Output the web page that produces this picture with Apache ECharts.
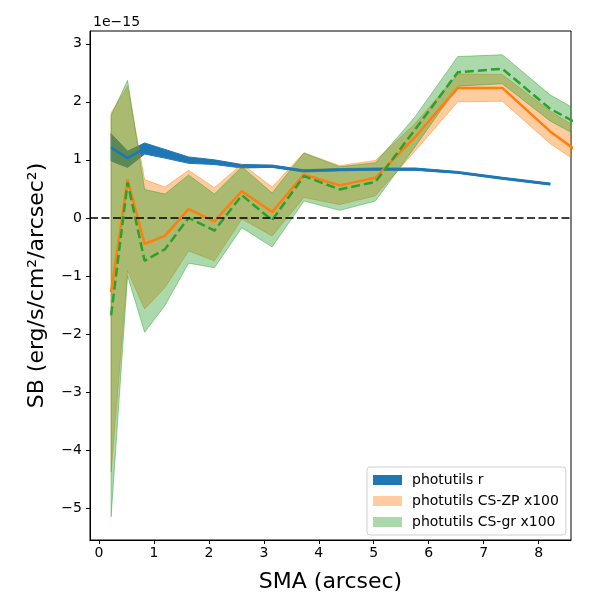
<!DOCTYPE html>
<html>
<head>
<meta charset="utf-8">
<script src="https://cdn.jsdelivr.net/npm/echarts@6/dist/echarts.min.js"></script>
<style>
  html, body { margin: 0; padding: 0; background: #fff; }
  #chart { width: 600px; height: 600px; }
</style>
</head>
<body>
<div id="chart"></div>
<script>
// SMA (arcsec) and SB values in units of 1e-15
const sma = [0.22, 0.52, 0.83, 1.20, 1.63, 2.10, 2.60, 3.15, 3.73, 4.38, 5.03, 5.75, 6.53, 7.34, 8.21, 9.15];

const rLine  = [1.21, 1.03, 1.20, 1.10, 1.00, 0.96, 0.89, 0.89, 0.81, 0.83, 0.84, 0.84, 0.78, 0.68, 0.58];
const rLow   = [0.98, 0.87, 1.10, 1.03, 0.94, 0.92, 0.86, 0.87, 0.79, 0.81, 0.82, 0.82, 0.77, 0.67, 0.57];
const rHigh  = [1.45, 1.15, 1.29, 1.18, 1.05, 1.00, 0.92, 0.91, 0.83, 0.85, 0.86, 0.86, 0.80, 0.70, 0.60];

const zpLine = [-1.28, 0.66, -0.45, -0.31, 0.15, -0.06, 0.46, 0.10, 0.75, 0.56, 0.69, 1.39, 2.24, 2.24, 1.49, 0.84];
const zpHigh = [1.81, 2.27, 0.66, 0.53, 0.82, 0.52, 0.93, 0.53, 1.12, 0.90, 0.99, 1.62, 2.48, 2.47, 1.84, 1.29];
const zpLow  = [-4.38, -0.91, -1.57, -1.20, -0.57, -0.74, -0.02, -0.31, 0.35, 0.23, 0.38, 1.15, 2.00, 2.01, 1.28, 0.68];

const grLine = [-1.68, 0.61, -0.74, -0.54, 0.00, -0.22, 0.39, -0.04, 0.72, 0.49, 0.62, 1.52, 2.51, 2.57, 1.88, 1.40];
const grHigh = [1.76, 2.37, 0.49, 0.41, 0.74, 0.41, 0.88, 0.43, 1.12, 0.88, 0.95, 1.74, 2.78, 2.81, 2.12, 1.61];
const grLow  = [-5.15, -1.00, -1.97, -1.51, -0.78, -0.86, -0.17, -0.50, 0.29, 0.13, 0.29, 1.22, 2.27, 2.31, 1.67, 1.19];

const xTicks = [0, 1, 2, 3, 4, 5, 6, 7, 8];
const yTicks = [-5, -4, -3, -2, -1, 0, 1, 2, 3];

const names = ['photutils r', 'photutils CS-ZP x100', 'photutils CS-gr x100'];

const pairs = (ys) => ys.map((v, i) => [sma[i], v]);
const minus = (v) => (v < 0 ? '\u2212' + Math.abs(v) : String(v));

// fill_between style band: one polygon through lower then upper edge
function band(name, lo, hi, fill, edge) {
  return {
    name: name, type: 'custom', silent: true,
    itemStyle: { color: fill },
    data: lo.map((v, i) => [sma[i], v, hi[i]]),
    encode: { x: 0, y: [1, 2] },
    renderItem: function (params, api) {
      if (params.dataIndexInside !== 0) return;
      const n = lo.length;
      const pts = [];
      for (let i = 0; i < n; i++) pts.push(api.coord([api.value(0, i), api.value(1, i)]));
      for (let i = n - 1; i >= 0; i--) pts.push(api.coord([api.value(0, i), api.value(2, i)]));
      const cs = params.coordSys;
      return {
        type: 'group',
        clipPath: { type: 'rect', shape: { x: cs.x, y: cs.y, width: cs.width, height: cs.height } },
        children: [{
          type: 'polygon',
          shape: { points: pts },
          style: { fill: fill, stroke: edge, lineWidth: 1 }
        }]
      };
    }
  };
}

const chart = echarts.init(document.getElementById('chart'));
chart.setOption({
  animation: false,
  textStyle: { fontFamily: 'DejaVu Sans' },
  title: {
    text: '1e\u221215', left: 88, top: 10,
    textStyle: { fontSize: 14, fontWeight: 'normal', color: '#000' }
  },
  legend: {
    data: names,
    orient: 'vertical', left: 367, top: 467,
    icon: 'rect', itemWidth: 29, itemHeight: 10, itemGap: 5,
    padding: [5, 7, 5, 6],
    backgroundColor: 'rgba(255,255,255,0.8)',
    borderColor: '#d0d0d0', borderWidth: 1, borderRadius: 3,
    textStyle: { fontSize: 14, color: '#000', lineHeight: 16, padding: [0, 0, 0, 5] },
    selectedMode: false
  },
  grid: { left: 90, right: 29, top: 31, bottom: 60, show: true, borderColor: '#000', borderWidth: 1 },
  xAxis: {
    type: 'value', min: -0.164, max: 8.59,
    name: 'SMA (arcsec)', nameLocation: 'middle', nameGap: 31,
    nameTextStyle: { fontSize: 22, color: '#000' },
    axisLine: { show: true, onZero: false, lineStyle: { color: '#000' } },
    axisTick: { show: true, customValues: xTicks, length: 4, lineStyle: { color: '#000' } },
    axisLabel: { customValues: xTicks, fontSize: 14, color: '#000', margin: 6, formatter: minus },
    splitLine: { show: false }
  },
  yAxis: {
    type: 'value', min: -5.55, max: 3.22,
    name: 'SB (erg/s/cm\u00b2/arcsec\u00b2)', nameLocation: 'middle', nameGap: 42, nameRotate: 90,
    nameTextStyle: { fontSize: 22, color: '#000' },
    axisLine: { show: true, onZero: false, lineStyle: { color: '#000' } },
    axisTick: { show: true, customValues: yTicks, length: 4, lineStyle: { color: '#000' } },
    axisLabel: { customValues: yTicks, fontSize: 14, color: '#000', margin: 8, formatter: minus },
    splitLine: { show: false }
  },
  series: [
    band(names[0], rLow, rHigh, '#1f77b4', '#1f77b4'),
    band(names[1], zpLow, zpHigh, 'rgba(255,127,14,0.4)', 'rgba(255,127,14,0.45)'),
    band(names[2], grLow, grHigh, 'rgba(44,160,44,0.4)', 'rgba(44,160,44,0.45)'),
    {
      name: 'r line', type: 'line', data: pairs(rLine), symbol: 'none', silent: true,
      lineStyle: { color: '#1f77b4', width: 2.5 },
      markLine: {
        silent: true, symbol: 'none', label: { show: false },
        lineStyle: { color: '#000', type: [8, 3.5], width: 1.6 },
        data: [{ yAxis: 0 }]
      }
    },
    {
      name: 'zp line', type: 'line', data: pairs(zpLine), symbol: 'none', silent: true,
      lineStyle: { color: '#ff7f0e', width: 2.5 }
    },
    {
      name: 'gr line', type: 'line', data: pairs(grLine), symbol: 'none', silent: true,
      lineStyle: { color: '#2ca02c', width: 2.5, type: [9, 4] }
    }
  ]
});
</script>
</body>
</html>
